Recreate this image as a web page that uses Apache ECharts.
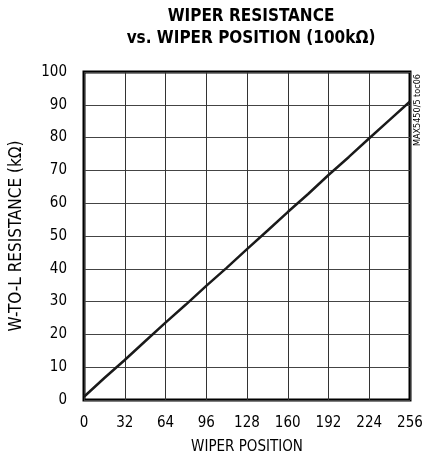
<!DOCTYPE html>
<html><head><meta charset="utf-8">
<script src="https://cdn.jsdelivr.net/npm/echarts@6/dist/echarts.min.js"></script>
<style>html,body{margin:0;padding:0;background:#fff}#c{width:435px;height:460px}</style>
</head><body><div id="c"></div>
<script>
var positions = [0,16,32,48,64,80,96,112,128,144,160,176,192,208,224,240,256];
var resistance = [1.0,6.7,12.2,17.9,23.6,29.1,34.8,40.3,46.0,51.6,57.3,62.8,68.6,74.1,79.8,85.4,91.0];
var xTicks = [0,32,64,96,128,160,192,224,256];
var yTicks = [0,10,20,30,40,50,60,70,80,90,100];

var FONT = '"DejaVu Sans Condensed","DejaVu Sans",sans-serif';
var chart = echarts.init(document.getElementById('c'), null, {renderer:'canvas'});
chart.setOption({
  animation:false,
  backgroundColor:'#fff',
  title:{
    text:'WIPER RESISTANCE\nvs. WIPER POSITION (100k\u03A9)',
    left:246, top:1, textAlign:'center',
    textStyle:{fontFamily:FONT, fontWeight:'bold', fontSize:17, lineHeight:22, color:'#000'}
  },
  grid:{left:82,right:25,top:72,bottom:60,show:true,borderColor:'#000',borderWidth:3,containLabel:false},
  xAxis:{
    type:'value', min:xTicks[0], max:xTicks[xTicks.length-1], interval:32,
    name:'WIPER POSITION', nameLocation:'middle', nameGap:40,
    nameTextStyle:{fontFamily:FONT,fontSize:15,color:'#000'},
    axisLine:{show:false}, axisTick:{show:false},
    axisLabel:{fontFamily:FONT,fontSize:15,color:'#000',margin:16},
    splitLine:{show:true,lineStyle:{color:'#333',width:1}}
  },
  yAxis:{
    type:'value', min:yTicks[0], max:yTicks[yTicks.length-1], interval:10,
    name:'W-TO-L RESISTANCE (k\u03A9)', nameLocation:'middle', nameGap:59,
    nameTextStyle:{fontFamily:FONT,fontSize:17,color:'#000'},
    axisLine:{show:false}, axisTick:{show:false},
    axisLabel:{fontFamily:FONT,fontSize:15,color:'#000',margin:17},
    splitLine:{show:true,lineStyle:{color:'#444',width:1}}
  },
  graphic:[{
    type:'text', x:418, y:146, rotation:Math.PI/2,
    style:{text:'MAX5450/5 toc06', fontFamily:FONT, fontSize:9, fill:'#000', textAlign:'left', textVerticalAlign:'middle'}
  }],
  series:[{
    type:'line', data:positions.map(function(p,i){return [p,resistance[i]];}),
    showSymbol:false, lineStyle:{color:'#1a1a1a',width:2.5}, z:5
  }]
});
</script></body></html>
